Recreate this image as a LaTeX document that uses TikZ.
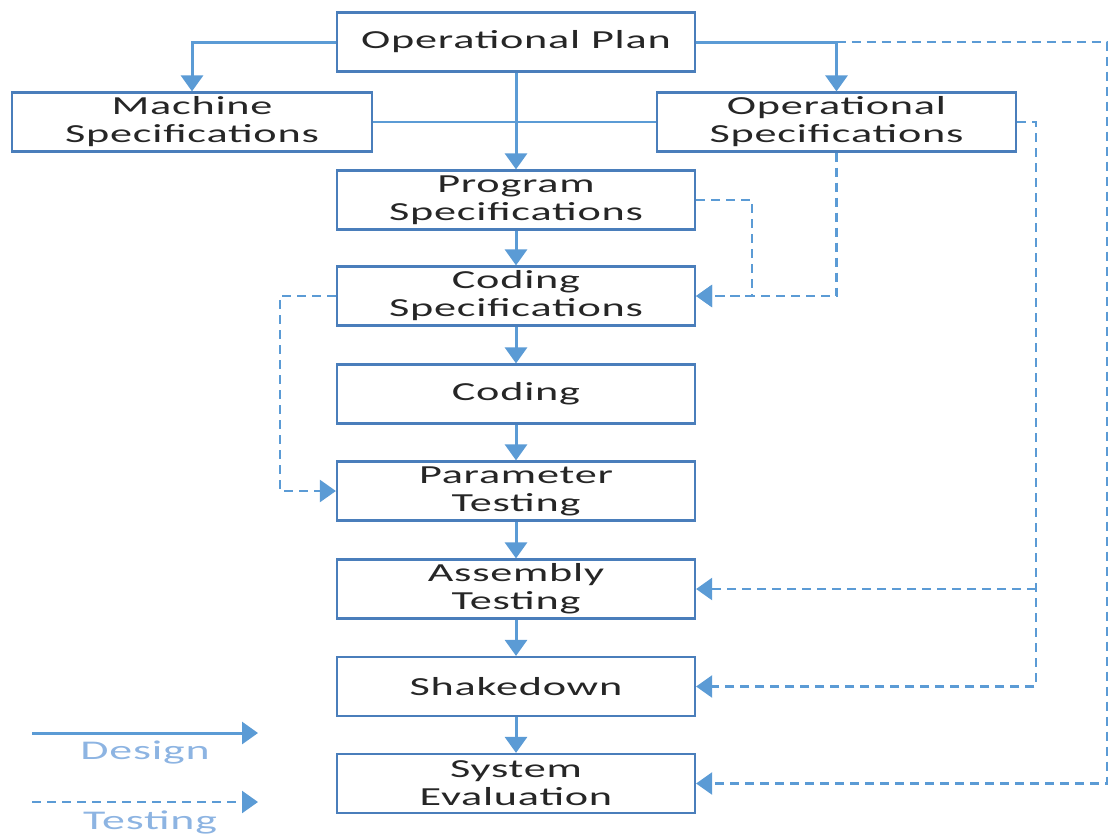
\documentclass[tikz,border=0pt]{standalone}
\usepackage{fontspec}
\setmainfont{Carlito}
\newfontfamily\boxfont[FakeStretch=1.7,LetterSpace=3]{Carlito}
\usetikzlibrary{arrows.meta}
\definecolor{flow}{HTML}{5B9BD5}
\definecolor{frame}{HTML}{4A7EBB}
\definecolor{legendtxt}{HTML}{8DB4E2}
\definecolor{ink}{HTML}{262626}
\tikzset{
  stage/.style={draw=frame, line width=2.2pt, fill=white, minimum width=358pt,
    minimum height=59pt, align=center, inner sep=0pt, text=ink,
    font=\boxfont\fontsize{26}{28}\selectfont},
  design/.style={draw=flow, line width=3pt, -{Triangle[width=22pt,length=16pt]}},
  link/.style={draw=flow, line width=2.6pt},
  testing/.style={draw=flow, line width=2.4pt, dash pattern=on 9pt off 6pt,
    -{Triangle[width=22pt,length=16pt]}},
  legendlbl/.style={text=legendtxt, font=\boxfont\fontsize{27}{28}\selectfont, inner sep=0pt}
}
\begin{document}
\begin{tikzpicture}[x=1pt,y=-1pt]
  \useasboundingbox (0,0) rectangle (1110,835);
  % process boxes
  \node[stage] (op) at (516,42) {Operational Plan};
  \node[stage, minimum width=360pt] (ms) at (192,122) {Machine\\Specifications};
  \node[stage, minimum width=359pt] (os) at (836.5,122) {Operational\\Specifications};
  \node[stage] (ps) at (516,200) {Program\\Specifications};
  \node[stage] (cs) at (516,296) {Coding\\Specifications};
  \node[stage] (cd) at (516,394) {Coding};
  \node[stage] (pt) at (516,491) {Parameter\\Testing};
  \node[stage] (at) at (516,589) {Assembly\\Testing};
  \node[stage] (sd) at (516,686.5) {Shakedown};
  \node[stage] (se) at (516,783.5) {System\\Evaluation};
  % routing points for the testing loops
  \coordinate (farright) at (1107,42);
  \coordinate (midright) at (1036,122);
  \coordinate (psjog) at (752,200);
  \coordinate (leftjog) at (280,296);
  % design flow
  \draw[design] (op.west) -| (ms.north);
  \draw[design] (op.east) -| (os.north);
  \draw[link] (ms.east) -- (os.west);
  \draw[design] (op.south) -- (ps.north);
  \draw[design] (ps.south) -- (cs.north);
  \draw[design] (cs.south) -- (cd.north);
  \draw[design] (cd.south) -- (pt.north);
  \draw[design] (pt.south) -- (at.north);
  \draw[design] (at.south) -- (sd.north);
  \draw[design] (sd.south) -- (se.north);
  % testing feedback
  \draw[testing] (os.north |- op.east) -- (farright) |- (se.east);
  \draw[testing] (ps.east) -- (psjog) |- (cs.east);
  \draw[testing] (os.south) |- (cs.east);
  \draw[testing] (os.east) -- (midright) |- (sd.east);
  \draw[testing] (midright |- at.east) -- (at.east);
  \draw[testing] (cs.west) -- (leftjog) |- (pt.west);
  % legend
  \coordinate (dA) at (32,733);
  \coordinate (dB) at (258,733);
  \coordinate (tA) at (32,802);
  \coordinate (tB) at (258,802);
  \draw[design] (dA) -- (dB);
  \draw[testing] (tA) -- (tB);
  \node[legendlbl] (dlbl) at (145,753) {Design};
  \node[legendlbl] (tlbl) at (150,822) {Testing};
\end{tikzpicture}
\end{document}
